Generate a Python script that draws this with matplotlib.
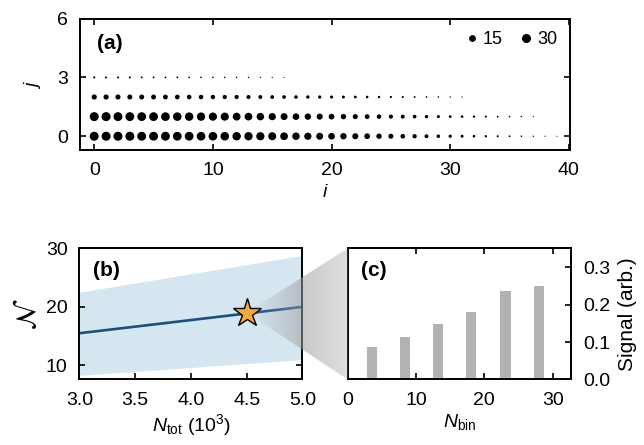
import numpy as np
import matplotlib
matplotlib.use("Agg")
import matplotlib.pyplot as plt
from matplotlib.patches import Polygon
from matplotlib.lines import Line2D

plt.rcParams['font.family'] = ['Liberation Sans', 'DejaVu Sans']
plt.rcParams['font.size'] = 14
plt.rcParams['mathtext.fontset'] = 'custom'
plt.rcParams['mathtext.rm'] = 'Liberation Sans'
plt.rcParams['mathtext.it'] = 'Liberation Sans:italic'
plt.rcParams['mathtext.bf'] = 'Liberation Sans:bold'

# (a) counts per (i, j)
row0 = [42, 42, 42, 42, 41, 41, 41, 40, 40, 39, 39, 38, 37, 36, 35, 33, 31, 29, 27, 25,
        23, 21, 19, 17, 15, 13, 11, 9.5, 8, 6.5, 5.5, 4.5, 3.5, 2.8, 2.2, 1.7, 1.3, 1.0, 0.8, 0.6]
row1 = [42, 42, 41, 41, 40, 40, 39, 38, 37, 36, 35, 34, 32, 31, 29, 27, 25, 23, 21, 19,
        17, 15, 13.5, 12, 10.5, 9, 8, 7, 6, 5, 4.2, 3.5, 2.8, 2.2, 1.7, 1.3, 1.0, 0.7]
row2 = [14, 14, 13.5, 13, 13, 12.5, 12, 11.5, 11, 10.5, 10, 9.5, 9, 8.5, 8, 7.5, 7, 6.5,
        6, 5.5, 5, 4.5, 4, 3.5, 3, 2.6, 2.2, 1.8, 1.5, 1.2, 1.0, 0.8]
row3 = [2.2, 2.1, 2.0, 2.0, 1.9, 1.8, 1.7, 1.6, 1.5, 1.4, 1.3, 1.2, 1.1, 1.0, 0.9, 0.8, 0.7]
rows = [row0, row1, row2, row3]
legend_counts = [15, 30]

# (b) N vs N_tot
ntot = [3.0, 5.0]
n_mean = [15.5, 20.0]
n_low = [8.3, 11.0]
n_high = [22.5, 28.8]
star_x, star_y = 4.5, 19.0

# (c) signal vs N_bin
nbin = [3.5, 8.4, 13.2, 18.1, 23.1, 28.0]
signal = [0.086, 0.113, 0.147, 0.179, 0.235, 0.250]

size_scale = 1.0
spine_lw = 1.4


def style(ax, top=True, right=True):
    for s in ax.spines.values():
        s.set_linewidth(spine_lw)
    ax.tick_params(direction='in', length=4, width=1.2, top=top, right=right,
                   labelsize=14)
    ax.tick_params(axis='x', pad=9)
    ax.tick_params(axis='y', pad=8.5)


fig = plt.figure(figsize=(6.44, 4.45), dpi=100)

# ---- panel (a)
ax_a = fig.add_axes([0.1242, 0.663, 0.761, 0.2953])
for j, r in enumerate(rows):
    ii = np.arange(len(r))
    ax_a.scatter(ii, np.full(len(r), j), s=np.array(r) * size_scale, c='black',
                 edgecolors='none')
ax_a.set_xlim(-1.2, 40.1)
ax_a.set_ylim(-0.7, 6)
ax_a.set_xticks([0, 10, 20, 30, 40])
ax_a.set_yticks([0, 3, 6])
ax_a.set_xlabel('$i$', labelpad=3)
ax_a.set_ylabel('$j$', labelpad=10)
style(ax_a)
handles = [Line2D([], [], ls='none', marker='o', color='black',
                  markersize=np.sqrt(v * size_scale)) for v in legend_counts]
ax_a.legend(handles, [str(v) for v in legend_counts], loc='upper right', ncol=2,
            frameon=False, handletextpad=0.2, columnspacing=0.9, handlelength=0.8,
            borderaxespad=0.3, fontsize=13)
ax_a.text(0.035, 0.88, '(a)', transform=ax_a.transAxes, fontweight='bold',
          fontsize=15, va='top')

# ---- panel (b)
ax_b = fig.add_axes([0.1234, 0.1472, 0.3463, 0.2948])
ax_b.fill_between(ntot, n_low, n_high, color='#d5e6f0', lw=0, zorder=1)
ax_b.plot(ntot, n_mean, color='#1b4f82', lw=1.9, zorder=2)
ax_b.plot([star_x], [star_y], marker='*', markersize=21, color='#f7a93c',
          markeredgecolor='black', markeredgewidth=1.0, zorder=5)
ax_b.set_xlim(3, 5)
ax_b.set_ylim(7.6, 30)
ax_b.set_xticks([3.0, 3.5, 4.0, 4.5, 5.0])
ax_b.set_xticklabels(['3.0', '3.5', '4.0', '4.5', '5.0'])
ax_b.set_yticks([10, 20, 30])
ax_b.set_xlabel(r'$N_{\rm tot}$ (10$^3$)', labelpad=2)
ax_b.set_ylabel(r'$\mathcal{N}$', math_fontfamily='stix', fontsize=20, labelpad=3)
style(ax_b, top=False, right=True)
ax_b.text(0.06, 0.9, '(b)', transform=ax_b.transAxes, fontweight='bold',
          fontsize=15, va='top', zorder=6)

# ---- panel (c)
ax_c = fig.add_axes([0.54, 0.1472, 0.3467, 0.2948])
ax_c.bar(nbin, signal, width=1.5, color='#b3b3b3', zorder=1)
ax_c.set_xlim(0, 32.7)
ax_c.set_ylim(0, 0.35)
ax_c.set_xticks([0, 10, 20, 30])
ax_c.set_yticks([0.0, 0.1, 0.2, 0.3])
ax_c.set_yticklabels(['0.0', '0.1', '0.2', '0.3'])
ax_c.yaxis.tick_right()
ax_c.yaxis.set_label_position('right')
ax_c.set_xlabel(r'$N_{\rm bin}$', labelpad=2)
ax_c.set_ylabel('Signal (arb.)', fontsize=15, labelpad=6)
style(ax_c)
ax_c.tick_params(labelleft=False, labelright=True)
ax_c.text(0.06, 0.9, '(c)', transform=ax_c.transAxes, fontweight='bold',
          fontsize=15, va='top')

# ---- zoom wedge from the star to panel (c), drawn on a full-figure overlay
to_fig = fig.transFigure.inverted()
apex = to_fig.transform(ax_b.transData.transform((star_x, star_y)))
cpos = ax_c.get_position()
bpos = ax_b.get_position()
ov = fig.add_axes([0, 0, 1, 1], zorder=3)
ov.set_xlim(0, 1)
ov.set_ylim(0, 1)
ov.axis('off')
ov.patch.set_alpha(0)
tri = Polygon([apex, (cpos.x0, cpos.y1), (cpos.x0, cpos.y0)], closed=True,
              facecolor='none', edgecolor='none')
ov.add_patch(tri)
nx = 300
xs = np.linspace(apex[0], cpos.x0, nx)
alpha = np.interp(xs, [apex[0], bpos.x1, cpos.x0], [0.0, 0.55, 0.33])
grad = np.zeros((2, nx, 4))
grad[..., :3] = 0.62
grad[..., 3] = alpha
im = ov.imshow(grad, extent=[apex[0], cpos.x0, cpos.y0, cpos.y1],
               aspect='auto', interpolation='bilinear', origin='lower')
im.set_clip_path(tri)
ov.set_xlim(0, 1)
ov.set_ylim(0, 1)

fig.savefig('out.png', dpi=100)
